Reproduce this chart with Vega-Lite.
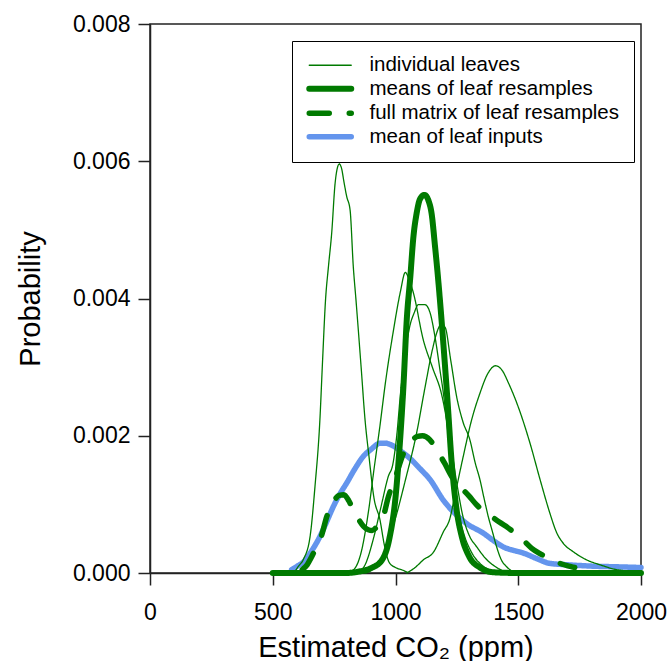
{
  "$schema": "https://vega.github.io/schema/vega-lite/v6.json",
  "width": 491,
  "height": 549,
  "autosize": "none",
  "padding": {"left": 150, "top": 24, "right": 28, "bottom": 88},
  "config": {
    "font": "Liberation Sans",
    "view": {"stroke": "#222", "strokeWidth": 1.5},
    "axis": {"domainColor": "#222", "domainWidth": 1.5, "tickColor": "#222", "tickWidth": 1.5, "tickSize": 12, "labelFontSize": 23, "labelColor": "#000", "labelFlush": false, "titleFontSize": 29, "titleFontWeight": "normal", "titleColor": "#000", "grid": false},
    "legend": {"orient": "none", "legendX": 142, "legendY": 17, "strokeColor": "#000", "fillColor": "#fff", "padding": 14, "labelFontSize": 20.5, "labelColor": "#000", "symbolType": "M-4.2,0H4.2", "symbolSize": 100, "symbolOffset": 14, "labelOffset": 29, "rowPadding": 0.5, "labelLimit": 400}
  },
  "data": {"values": [
    {"type": "mean of leaf inputs", "leaf": "m", "co2": 577, "p": 0.00005},
    {"type": "mean of leaf inputs", "leaf": "m", "co2": 600, "p": 0.0001},
    {"type": "mean of leaf inputs", "leaf": "m", "co2": 625, "p": 0.00016},
    {"type": "mean of leaf inputs", "leaf": "m", "co2": 660, "p": 0.00033},
    {"type": "mean of leaf inputs", "leaf": "m", "co2": 692, "p": 0.00053},
    {"type": "mean of leaf inputs", "leaf": "m", "co2": 720, "p": 0.00075},
    {"type": "mean of leaf inputs", "leaf": "m", "co2": 747, "p": 0.00097},
    {"type": "mean of leaf inputs", "leaf": "m", "co2": 775, "p": 0.00116},
    {"type": "mean of leaf inputs", "leaf": "m", "co2": 801, "p": 0.00131},
    {"type": "mean of leaf inputs", "leaf": "m", "co2": 835, "p": 0.00152},
    {"type": "mean of leaf inputs", "leaf": "m", "co2": 869, "p": 0.0017},
    {"type": "mean of leaf inputs", "leaf": "m", "co2": 900, "p": 0.0018},
    {"type": "mean of leaf inputs", "leaf": "m", "co2": 937, "p": 0.00189},
    {"type": "mean of leaf inputs", "leaf": "m", "co2": 960, "p": 0.00189},
    {"type": "mean of leaf inputs", "leaf": "m", "co2": 980, "p": 0.00187},
    {"type": "mean of leaf inputs", "leaf": "m", "co2": 1020, "p": 0.00178},
    {"type": "mean of leaf inputs", "leaf": "m", "co2": 1059, "p": 0.00167},
    {"type": "mean of leaf inputs", "leaf": "m", "co2": 1100, "p": 0.00152},
    {"type": "mean of leaf inputs", "leaf": "m", "co2": 1141, "p": 0.00136},
    {"type": "mean of leaf inputs", "leaf": "m", "co2": 1195, "p": 0.00106},
    {"type": "mean of leaf inputs", "leaf": "m", "co2": 1236, "p": 0.00089},
    {"type": "mean of leaf inputs", "leaf": "m", "co2": 1290, "p": 0.00072},
    {"type": "mean of leaf inputs", "leaf": "m", "co2": 1358, "p": 0.00058},
    {"type": "mean of leaf inputs", "leaf": "m", "co2": 1400, "p": 0.00047},
    {"type": "mean of leaf inputs", "leaf": "m", "co2": 1439, "p": 0.00038},
    {"type": "mean of leaf inputs", "leaf": "m", "co2": 1480, "p": 0.00033},
    {"type": "mean of leaf inputs", "leaf": "m", "co2": 1521, "p": 0.00029},
    {"type": "mean of leaf inputs", "leaf": "m", "co2": 1575, "p": 0.00021},
    {"type": "mean of leaf inputs", "leaf": "m", "co2": 1629, "p": 0.00014},
    {"type": "mean of leaf inputs", "leaf": "m", "co2": 1700, "p": 0.00012},
    {"type": "mean of leaf inputs", "leaf": "m", "co2": 1800, "p": 0.0001},
    {"type": "mean of leaf inputs", "leaf": "m", "co2": 1900, "p": 0.00009},
    {"type": "mean of leaf inputs", "leaf": "m", "co2": 2000, "p": 0.00008},

    {"type": "individual leaves", "leaf": "A", "co2": 560, "p": 0},
    {"type": "individual leaves", "leaf": "A", "co2": 590, "p": 0.00003},
    {"type": "individual leaves", "leaf": "A", "co2": 605, "p": 0.0001},
    {"type": "individual leaves", "leaf": "A", "co2": 625, "p": 0.0002},
    {"type": "individual leaves", "leaf": "A", "co2": 652, "p": 0.00053},
    {"type": "individual leaves", "leaf": "A", "co2": 672, "p": 0.00126},
    {"type": "individual leaves", "leaf": "A", "co2": 692, "p": 0.00223},
    {"type": "individual leaves", "leaf": "A", "co2": 703, "p": 0.0031},
    {"type": "individual leaves", "leaf": "A", "co2": 715, "p": 0.00398},
    {"type": "individual leaves", "leaf": "A", "co2": 727, "p": 0.00447},
    {"type": "individual leaves", "leaf": "A", "co2": 740, "p": 0.00495},
    {"type": "individual leaves", "leaf": "A", "co2": 754, "p": 0.00568},
    {"type": "individual leaves", "leaf": "A", "co2": 763, "p": 0.0059},
    {"type": "individual leaves", "leaf": "A", "co2": 771, "p": 0.00596},
    {"type": "individual leaves", "leaf": "A", "co2": 780, "p": 0.0059},
    {"type": "individual leaves", "leaf": "A", "co2": 790, "p": 0.0057},
    {"type": "individual leaves", "leaf": "A", "co2": 801, "p": 0.00549},
    {"type": "individual leaves", "leaf": "A", "co2": 815, "p": 0.00529},
    {"type": "individual leaves", "leaf": "A", "co2": 828, "p": 0.00447},
    {"type": "individual leaves", "leaf": "A", "co2": 839, "p": 0.00398},
    {"type": "individual leaves", "leaf": "A", "co2": 860, "p": 0.003},
    {"type": "individual leaves", "leaf": "A", "co2": 876, "p": 0.00223},
    {"type": "individual leaves", "leaf": "A", "co2": 892, "p": 0.0017},
    {"type": "individual leaves", "leaf": "A", "co2": 912, "p": 0.0011},
    {"type": "individual leaves", "leaf": "A", "co2": 937, "p": 0.00077},
    {"type": "individual leaves", "leaf": "A", "co2": 955, "p": 0.0004},
    {"type": "individual leaves", "leaf": "A", "co2": 975, "p": 0.00015},
    {"type": "individual leaves", "leaf": "A", "co2": 1000, "p": 0.00008},
    {"type": "individual leaves", "leaf": "A", "co2": 1030, "p": 0.00004},
    {"type": "individual leaves", "leaf": "A", "co2": 1048, "p": 0.00001},

    {"type": "individual leaves", "leaf": "B", "co2": 800, "p": 0},
    {"type": "individual leaves", "leaf": "B", "co2": 830, "p": 0.00005},
    {"type": "individual leaves", "leaf": "B", "co2": 860, "p": 0.0003},
    {"type": "individual leaves", "leaf": "B", "co2": 890, "p": 0.0009},
    {"type": "individual leaves", "leaf": "B", "co2": 912, "p": 0.0015},
    {"type": "individual leaves", "leaf": "B", "co2": 935, "p": 0.0021},
    {"type": "individual leaves", "leaf": "B", "co2": 960, "p": 0.0028},
    {"type": "individual leaves", "leaf": "B", "co2": 990, "p": 0.0035},
    {"type": "individual leaves", "leaf": "B", "co2": 1020, "p": 0.0041},
    {"type": "individual leaves", "leaf": "B", "co2": 1040, "p": 0.00438},
    {"type": "individual leaves", "leaf": "B", "co2": 1055, "p": 0.00428},
    {"type": "individual leaves", "leaf": "B", "co2": 1073, "p": 0.00408},
    {"type": "individual leaves", "leaf": "B", "co2": 1113, "p": 0.0034},
    {"type": "individual leaves", "leaf": "B", "co2": 1150, "p": 0.003},
    {"type": "individual leaves", "leaf": "B", "co2": 1188, "p": 0.0026},
    {"type": "individual leaves", "leaf": "B", "co2": 1222, "p": 0.00194},
    {"type": "individual leaves", "leaf": "B", "co2": 1250, "p": 0.0013},
    {"type": "individual leaves", "leaf": "B", "co2": 1275, "p": 0.00082},
    {"type": "individual leaves", "leaf": "B", "co2": 1300, "p": 0.00055},
    {"type": "individual leaves", "leaf": "B", "co2": 1331, "p": 0.00038},
    {"type": "individual leaves", "leaf": "B", "co2": 1370, "p": 0.0002},
    {"type": "individual leaves", "leaf": "B", "co2": 1412, "p": 0.00008},
    {"type": "individual leaves", "leaf": "B", "co2": 1460, "p": 0},

    {"type": "individual leaves", "leaf": "C", "co2": 850, "p": 0},
    {"type": "individual leaves", "leaf": "C", "co2": 880, "p": 0.00015},
    {"type": "individual leaves", "leaf": "C", "co2": 910, "p": 0.0005},
    {"type": "individual leaves", "leaf": "C", "co2": 940, "p": 0.00095},
    {"type": "individual leaves", "leaf": "C", "co2": 970, "p": 0.0014},
    {"type": "individual leaves", "leaf": "C", "co2": 990, "p": 0.0016},
    {"type": "individual leaves", "leaf": "C", "co2": 1005, "p": 0.002},
    {"type": "individual leaves", "leaf": "C", "co2": 1020, "p": 0.0026},
    {"type": "individual leaves", "leaf": "C", "co2": 1035, "p": 0.0031},
    {"type": "individual leaves", "leaf": "C", "co2": 1050, "p": 0.00345},
    {"type": "individual leaves", "leaf": "C", "co2": 1062, "p": 0.00365},
    {"type": "individual leaves", "leaf": "C", "co2": 1075, "p": 0.00378},
    {"type": "individual leaves", "leaf": "C", "co2": 1093, "p": 0.00391},
    {"type": "individual leaves", "leaf": "C", "co2": 1120, "p": 0.00391},
    {"type": "individual leaves", "leaf": "C", "co2": 1141, "p": 0.00379},
    {"type": "individual leaves", "leaf": "C", "co2": 1161, "p": 0.00344},
    {"type": "individual leaves", "leaf": "C", "co2": 1181, "p": 0.00296},
    {"type": "individual leaves", "leaf": "C", "co2": 1195, "p": 0.00262},
    {"type": "individual leaves", "leaf": "C", "co2": 1215, "p": 0.002},
    {"type": "individual leaves", "leaf": "C", "co2": 1235, "p": 0.0014},
    {"type": "individual leaves", "leaf": "C", "co2": 1255, "p": 0.0009},
    {"type": "individual leaves", "leaf": "C", "co2": 1280, "p": 0.00055},
    {"type": "individual leaves", "leaf": "C", "co2": 1310, "p": 0.0003},
    {"type": "individual leaves", "leaf": "C", "co2": 1350, "p": 0.00012},
    {"type": "individual leaves", "leaf": "C", "co2": 1400, "p": 0.00003},
    {"type": "individual leaves", "leaf": "C", "co2": 1450, "p": 0},

    {"type": "individual leaves", "leaf": "D", "co2": 880, "p": 0},
    {"type": "individual leaves", "leaf": "D", "co2": 920, "p": 0.0001},
    {"type": "individual leaves", "leaf": "D", "co2": 960, "p": 0.00035},
    {"type": "individual leaves", "leaf": "D", "co2": 1000, "p": 0.0008},
    {"type": "individual leaves", "leaf": "D", "co2": 1040, "p": 0.00135},
    {"type": "individual leaves", "leaf": "D", "co2": 1086, "p": 0.00204},
    {"type": "individual leaves", "leaf": "D", "co2": 1120, "p": 0.0027},
    {"type": "individual leaves", "leaf": "D", "co2": 1150, "p": 0.00325},
    {"type": "individual leaves", "leaf": "D", "co2": 1168, "p": 0.0035},
    {"type": "individual leaves", "leaf": "D", "co2": 1185, "p": 0.00362},
    {"type": "individual leaves", "leaf": "D", "co2": 1202, "p": 0.00358},
    {"type": "individual leaves", "leaf": "D", "co2": 1225, "p": 0.0031},
    {"type": "individual leaves", "leaf": "D", "co2": 1249, "p": 0.00257},
    {"type": "individual leaves", "leaf": "D", "co2": 1275, "p": 0.0022},
    {"type": "individual leaves", "leaf": "D", "co2": 1303, "p": 0.00194},
    {"type": "individual leaves", "leaf": "D", "co2": 1325, "p": 0.0016},
    {"type": "individual leaves", "leaf": "D", "co2": 1344, "p": 0.00136},
    {"type": "individual leaves", "leaf": "D", "co2": 1360, "p": 0.0011},
    {"type": "individual leaves", "leaf": "D", "co2": 1378, "p": 0.00082},
    {"type": "individual leaves", "leaf": "D", "co2": 1395, "p": 0.0006},
    {"type": "individual leaves", "leaf": "D", "co2": 1412, "p": 0.00038},
    {"type": "individual leaves", "leaf": "D", "co2": 1430, "p": 0.0002},
    {"type": "individual leaves", "leaf": "D", "co2": 1453, "p": 0.00009},
    {"type": "individual leaves", "leaf": "D", "co2": 1480, "p": 0.00002},
    {"type": "individual leaves", "leaf": "D", "co2": 1510, "p": 0},

    {"type": "individual leaves", "leaf": "E", "co2": 1046, "p": 0},
    {"type": "individual leaves", "leaf": "E", "co2": 1080, "p": 0.00008},
    {"type": "individual leaves", "leaf": "E", "co2": 1113, "p": 0.00019},
    {"type": "individual leaves", "leaf": "E", "co2": 1154, "p": 0.0003},
    {"type": "individual leaves", "leaf": "E", "co2": 1195, "p": 0.0006},
    {"type": "individual leaves", "leaf": "E", "co2": 1222, "p": 0.0008},
    {"type": "individual leaves", "leaf": "E", "co2": 1240, "p": 0.0011},
    {"type": "individual leaves", "leaf": "E", "co2": 1276, "p": 0.0017},
    {"type": "individual leaves", "leaf": "E", "co2": 1310, "p": 0.00223},
    {"type": "individual leaves", "leaf": "E", "co2": 1344, "p": 0.00262},
    {"type": "individual leaves", "leaf": "E", "co2": 1375, "p": 0.0029},
    {"type": "individual leaves", "leaf": "E", "co2": 1408, "p": 0.00302},
    {"type": "individual leaves", "leaf": "E", "co2": 1435, "p": 0.00295},
    {"type": "individual leaves", "leaf": "E", "co2": 1460, "p": 0.00277},
    {"type": "individual leaves", "leaf": "E", "co2": 1500, "p": 0.00242},
    {"type": "individual leaves", "leaf": "E", "co2": 1548, "p": 0.00189},
    {"type": "individual leaves", "leaf": "E", "co2": 1589, "p": 0.00136},
    {"type": "individual leaves", "leaf": "E", "co2": 1629, "p": 0.00087},
    {"type": "individual leaves", "leaf": "E", "co2": 1655, "p": 0.0006},
    {"type": "individual leaves", "leaf": "E", "co2": 1684, "p": 0.00043},
    {"type": "individual leaves", "leaf": "E", "co2": 1724, "p": 0.00031},
    {"type": "individual leaves", "leaf": "E", "co2": 1779, "p": 0.00019},
    {"type": "individual leaves", "leaf": "E", "co2": 1833, "p": 0.00012},
    {"type": "individual leaves", "leaf": "E", "co2": 1900, "p": 0.00005},
    {"type": "individual leaves", "leaf": "E", "co2": 2000, "p": 0.00002},

    {"type": "means of leaf resamples", "leaf": "r", "co2": 500, "p": 0},
    {"type": "means of leaf resamples", "leaf": "r", "co2": 800, "p": 0},
    {"type": "means of leaf resamples", "leaf": "r", "co2": 850, "p": 0.00002},
    {"type": "means of leaf resamples", "leaf": "r", "co2": 900, "p": 0.00007},
    {"type": "means of leaf resamples", "leaf": "r", "co2": 945, "p": 0.00019},
    {"type": "means of leaf resamples", "leaf": "r", "co2": 975, "p": 0.0005},
    {"type": "means of leaf resamples", "leaf": "r", "co2": 1000, "p": 0.0011},
    {"type": "means of leaf resamples", "leaf": "r", "co2": 1018, "p": 0.0019},
    {"type": "means of leaf resamples", "leaf": "r", "co2": 1032, "p": 0.0027},
    {"type": "means of leaf resamples", "leaf": "r", "co2": 1046, "p": 0.0037},
    {"type": "means of leaf resamples", "leaf": "r", "co2": 1060, "p": 0.0043},
    {"type": "means of leaf resamples", "leaf": "r", "co2": 1073, "p": 0.0049},
    {"type": "means of leaf resamples", "leaf": "r", "co2": 1086, "p": 0.00524},
    {"type": "means of leaf resamples", "leaf": "r", "co2": 1100, "p": 0.00545},
    {"type": "means of leaf resamples", "leaf": "r", "co2": 1118, "p": 0.00551},
    {"type": "means of leaf resamples", "leaf": "r", "co2": 1135, "p": 0.00542},
    {"type": "means of leaf resamples", "leaf": "r", "co2": 1147, "p": 0.00524},
    {"type": "means of leaf resamples", "leaf": "r", "co2": 1161, "p": 0.00476},
    {"type": "means of leaf resamples", "leaf": "r", "co2": 1174, "p": 0.00427},
    {"type": "means of leaf resamples", "leaf": "r", "co2": 1185, "p": 0.0038},
    {"type": "means of leaf resamples", "leaf": "r", "co2": 1200, "p": 0.0031},
    {"type": "means of leaf resamples", "leaf": "r", "co2": 1212, "p": 0.0025},
    {"type": "means of leaf resamples", "leaf": "r", "co2": 1229, "p": 0.0016},
    {"type": "means of leaf resamples", "leaf": "r", "co2": 1249, "p": 0.00092},
    {"type": "means of leaf resamples", "leaf": "r", "co2": 1270, "p": 0.00053},
    {"type": "means of leaf resamples", "leaf": "r", "co2": 1300, "p": 0.00024},
    {"type": "means of leaf resamples", "leaf": "r", "co2": 1344, "p": 0.00008},
    {"type": "means of leaf resamples", "leaf": "r", "co2": 1400, "p": 0.00001},
    {"type": "means of leaf resamples", "leaf": "r", "co2": 1500, "p": 0},
    {"type": "means of leaf resamples", "leaf": "r", "co2": 2000, "p": 0},

    {"type": "full matrix of leaf resamples", "leaf": "f", "co2": 620, "p": 0.00005},
    {"type": "full matrix of leaf resamples", "leaf": "f", "co2": 640, "p": 0.00012},
    {"type": "full matrix of leaf resamples", "leaf": "f", "co2": 659, "p": 0.00024},
    {"type": "full matrix of leaf resamples", "leaf": "f", "co2": 680, "p": 0.0004},
    {"type": "full matrix of leaf resamples", "leaf": "f", "co2": 699, "p": 0.00055},
    {"type": "full matrix of leaf resamples", "leaf": "f", "co2": 720, "p": 0.00082},
    {"type": "full matrix of leaf resamples", "leaf": "f", "co2": 745, "p": 0.00102},
    {"type": "full matrix of leaf resamples", "leaf": "f", "co2": 770, "p": 0.00113},
    {"type": "full matrix of leaf resamples", "leaf": "f", "co2": 790, "p": 0.00114},
    {"type": "full matrix of leaf resamples", "leaf": "f", "co2": 810, "p": 0.00105},
    {"type": "full matrix of leaf resamples", "leaf": "f", "co2": 828, "p": 0.00092},
    {"type": "full matrix of leaf resamples", "leaf": "f", "co2": 850, "p": 0.00078},
    {"type": "full matrix of leaf resamples", "leaf": "f", "co2": 870, "p": 0.00068},
    {"type": "full matrix of leaf resamples", "leaf": "f", "co2": 889, "p": 0.00063},
    {"type": "full matrix of leaf resamples", "leaf": "f", "co2": 905, "p": 0.00062},
    {"type": "full matrix of leaf resamples", "leaf": "f", "co2": 925, "p": 0.00068},
    {"type": "full matrix of leaf resamples", "leaf": "f", "co2": 950, "p": 0.00082},
    {"type": "full matrix of leaf resamples", "leaf": "f", "co2": 971, "p": 0.00111},
    {"type": "full matrix of leaf resamples", "leaf": "f", "co2": 1000, "p": 0.0014},
    {"type": "full matrix of leaf resamples", "leaf": "f", "co2": 1032, "p": 0.00174},
    {"type": "full matrix of leaf resamples", "leaf": "f", "co2": 1060, "p": 0.0019},
    {"type": "full matrix of leaf resamples", "leaf": "f", "co2": 1090, "p": 0.00199},
    {"type": "full matrix of leaf resamples", "leaf": "f", "co2": 1110, "p": 0.002},
    {"type": "full matrix of leaf resamples", "leaf": "f", "co2": 1140, "p": 0.00194},
    {"type": "full matrix of leaf resamples", "leaf": "f", "co2": 1168, "p": 0.00179},
    {"type": "full matrix of leaf resamples", "leaf": "f", "co2": 1200, "p": 0.0016},
    {"type": "full matrix of leaf resamples", "leaf": "f", "co2": 1230, "p": 0.0014},
    {"type": "full matrix of leaf resamples", "leaf": "f", "co2": 1263, "p": 0.00126},
    {"type": "full matrix of leaf resamples", "leaf": "f", "co2": 1300, "p": 0.00112},
    {"type": "full matrix of leaf resamples", "leaf": "f", "co2": 1331, "p": 0.00099},
    {"type": "full matrix of leaf resamples", "leaf": "f", "co2": 1370, "p": 0.00088},
    {"type": "full matrix of leaf resamples", "leaf": "f", "co2": 1412, "p": 0.00077},
    {"type": "full matrix of leaf resamples", "leaf": "f", "co2": 1450, "p": 0.00068},
    {"type": "full matrix of leaf resamples", "leaf": "f", "co2": 1480, "p": 0.0006},
    {"type": "full matrix of leaf resamples", "leaf": "f", "co2": 1520, "p": 0.00048},
    {"type": "full matrix of leaf resamples", "leaf": "f", "co2": 1555, "p": 0.00036},
    {"type": "full matrix of leaf resamples", "leaf": "f", "co2": 1590, "p": 0.00028},
    {"type": "full matrix of leaf resamples", "leaf": "f", "co2": 1629, "p": 0.00021},
    {"type": "full matrix of leaf resamples", "leaf": "f", "co2": 1670, "p": 0.00014},
    {"type": "full matrix of leaf resamples", "leaf": "f", "co2": 1718, "p": 0.00009},
    {"type": "full matrix of leaf resamples", "leaf": "f", "co2": 1730, "p": 0.00008}
  ]},
  "encoding": {
    "x": {"field": "co2", "type": "quantitative", "scale": {"domain": [0, 2000], "nice": false}, "axis": {"values": [0, 500, 1000, 1500, 2000], "format": "d", "title": "Estimated CO₂ (ppm)", "labelPadding": 16, "titlePadding": 9}},
    "y": {"field": "p", "type": "quantitative", "scale": {"domain": [0, 0.008], "nice": false}, "axis": {"values": [0, 0.002, 0.004, 0.006, 0.008], "format": ".3f", "title": "Probability", "labelPadding": 8, "titlePadding": 27}},
    "color": {"field": "type", "type": "nominal", "scale": {"domain": ["individual leaves", "means of leaf resamples", "full matrix of leaf resamples", "mean of leaf inputs"], "range": ["#007a00", "#007a00", "#007a00", "#6495ed"]}, "legend": {"title": null, "encode": {"symbols": {"update": {"strokeCap": {"value": "round"}, "strokeDash": {"signal": "datum.value === 'full matrix of leaf resamples' ? [7, 15] : [1, 0]"}}}}}},
    "strokeWidth": {"field": "type", "type": "nominal", "scale": {"type": "ordinal", "domain": ["individual leaves", "means of leaf resamples", "full matrix of leaf resamples", "mean of leaf inputs"], "range": [1.3, 6, 5.5, 5.5]}, "legend": {"title": null}},
    "strokeDash": {"field": "type", "type": "nominal", "scale": {"domain": ["individual leaves", "means of leaf resamples", "full matrix of leaf resamples", "mean of leaf inputs"], "range": [[1, 0], [1, 0], [20, 20], [1, 0]]}, "legend": {"title": null}},
    "detail": {"field": "leaf"}
  },
  "layer": [
    {"transform": [{"filter": "datum.type === 'mean of leaf inputs'"}], "mark": {"type": "line", "interpolate": "monotone", "strokeCap": "round"}},
    {"transform": [{"filter": "datum.type === 'individual leaves'"}], "mark": {"type": "line", "interpolate": "monotone", "strokeCap": "round"}},
    {"transform": [{"filter": "datum.type === 'means of leaf resamples'"}], "mark": {"type": "line", "interpolate": "monotone", "strokeCap": "round"}},
    {"transform": [{"filter": "datum.type === 'full matrix of leaf resamples'"}], "mark": {"type": "line", "interpolate": "monotone", "strokeCap": "round"}}
  ]
}
